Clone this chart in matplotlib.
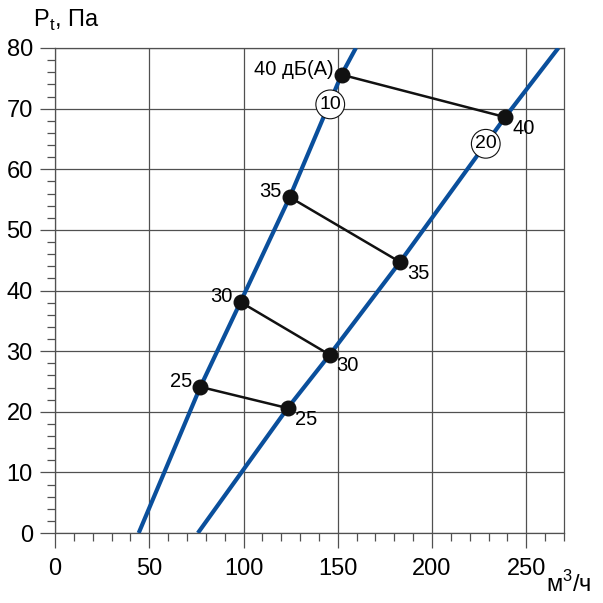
import numpy as np
import matplotlib.pyplot as plt
from matplotlib.ticker import MultipleLocator

plt.rcParams['font.family'] = ['Liberation Sans', 'DejaVu Sans']

# fan curves (m3/h, Pa)
curve10_x = [44.4, 77.1, 98.4, 124.5, 152.0, 159.6]
curve10_y = [0.0, 24.1, 38.1, 55.4, 75.6, 80.0]
curve20_x = [75.8, 123.4, 145.7, 183.0, 238.8, 267.0]
curve20_y = [0.0, 20.6, 29.4, 44.7, 68.6, 80.0]

# noise level points, dB(A)
noise_lvls = [25, 30, 35, 40]
pts10_x = [77.1, 98.4, 124.5, 152.0]
pts10_y = [24.1, 38.1, 55.4, 75.6]
pts20_x = [123.4, 145.7, 183.0, 238.8]
pts20_y = [20.6, 29.4, 44.7, 68.6]

blue = '#0a4f9c'
grid_c = '#505050'

fig = plt.figure(figsize=(6.03, 6.03), dpi=100)
ax = fig.add_axes([55/603, 1-533/603, 509/603, 485/603])

ax.plot(curve10_x, curve10_y, color=blue, lw=3, zorder=3, solid_capstyle='butt')
ax.plot(curve20_x, curve20_y, color=blue, lw=3, zorder=3, solid_capstyle='butt')

for i in range(len(noise_lvls)):
    ax.plot([pts10_x[i], pts20_x[i]], [pts10_y[i], pts20_y[i]], color='#111111', lw=1.8, zorder=4)
ax.scatter(pts10_x + pts20_x, pts10_y + pts20_y, s=110, color='#111111', zorder=5)

for i, lv in enumerate(noise_lvls):
    lbl = '%d дБ(А)' % lv if lv == 40 else '%d' % lv
    ax.annotate(lbl, (pts10_x[i], pts10_y[i]), xytext=(-6, 4), textcoords='offset points',
                ha='right', va='center', fontsize=14.5)
    ax.annotate('%d' % lv, (pts20_x[i], pts20_y[i]), xytext=(5, -8), textcoords='offset points',
                ha='left', va='center', fontsize=14.5)

# curve numbers in circles
for x, y, t in [(146.0, 70.7, '10'), (228.5, 64.2, '20')]:
    ax.text(x, y, t, fontsize=14, ha='center', va='center', zorder=6,
            bbox=dict(boxstyle='circle,pad=0.18', fc='white', ec='#111111', lw=0.8))

ax.set_xlim(0, 270)
ax.set_ylim(0, 80)
ax.xaxis.set_major_locator(MultipleLocator(50))
ax.xaxis.set_minor_locator(MultipleLocator(10))
ax.yaxis.set_major_locator(MultipleLocator(10))
ax.yaxis.set_minor_locator(MultipleLocator(2))
ax.grid(True, which='major', color=grid_c, lw=0.9)
ax.tick_params(which='major', length=11, width=0.9, color=grid_c, labelsize=17, pad=5)
ax.tick_params(axis='x', which='major', pad=7)
ax.tick_params(which='minor', length=6, width=0.9, color=grid_c)
for s in ax.spines.values():
    s.set_color(grid_c)
    s.set_linewidth(0.9)

fig.text(33/603, 1-20/603, r'P$_\mathregular{t}$, Па', fontsize=17, ha='left', va='center')
fig.text(592/603, 1-584/603, r'м$^\mathregular{3}$/ч', fontsize=17, ha='right', va='center')

plt.savefig('out.png', dpi=100)
